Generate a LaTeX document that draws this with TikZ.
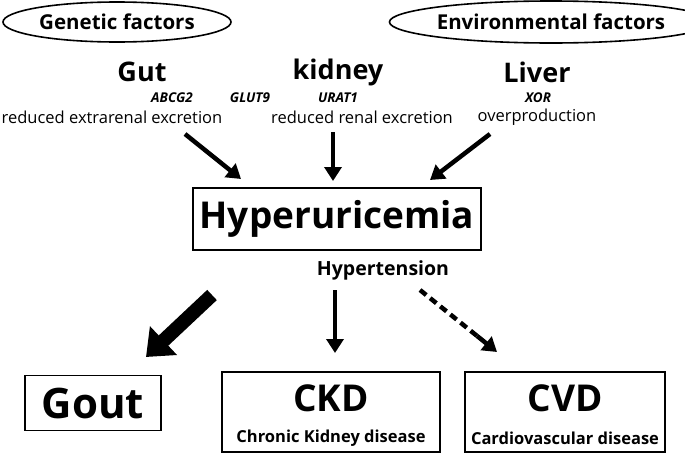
\documentclass[tikz,border=0pt]{standalone}
\usepackage{fontspec}
\setmainfont{Open Sans}
\usetikzlibrary{shapes.geometric,arrows.meta,calc}
\begin{document}
\begin{tikzpicture}[x=1pt,y=-1pt,
  oval/.style={ellipse,draw,line width=1.6pt,inner sep=0pt,font=\bfseries\fontsize{20.5}{22}\selectfont},
  organ/.style={font=\bfseries\fontsize{27}{28}\selectfont},
  gene/.style={font=\bfseries\itshape\fontsize{13.5}{14}\selectfont},
  desc/.style={font=\fontsize{16.5}{17}\selectfont},
  box/.style={draw,line width=1.2pt,inner sep=0pt},
  arr/.style={line width=4.5pt,-{Triangle[length=14pt,width=17pt]}},
  sub/.style={font=\bfseries\fontsize{16.5}{17}\selectfont}]
\useasboundingbox (0,0) rectangle (685,458);
\node[oval,minimum width=228,minimum height=40] (gen) at (117,22) {Genetic factors};
\node[oval,minimum width=262,minimum height=42] (env) at (551,22) {Environmental factors};
\node[organ] (gut) at (142,72) {Gut};
\node[organ] (kid) at (338,72) {kidney};
\node[organ] (liv) at (537,72) {Liver};
\node[gene] (abcg) at (172,98) {ABCG2};
\node[gene] (glut) at (250,98) {GLUT9};
\node[gene] (urat) at (338,98) {URAT1};
\node[gene] (xor) at (538,98) {XOR};
\node[desc] (d1) at (112,117) {reduced extrarenal excretion};
\node[desc] (d2) at (362,117) {reduced renal excretion};
\node[desc] (d3) at (537,117) {overproduction};
\node[box,minimum width=288,minimum height=62,font=\bfseries\fontsize{37}{40}\selectfont] (hyp) at (337,219) {Hyperuricemia};
\node[font=\bfseries\fontsize{19.5}{20}\selectfont] (ht) at (383,270) {Hypertension};
\node[box,minimum width=136,minimum height=55,font=\bfseries\fontsize{42}{44}\selectfont] (gout) at (93,403) {Gout};
\node[box,minimum width=218,minimum height=80] (ckd) at (331,412) {};
\node[font=\bfseries\fontsize{37}{40}\selectfont] (ckdt) at (331,398) {CKD};
\node[sub] (ckds) at (331,438) {Chronic Kidney disease};
\node[box,minimum width=200,minimum height=80] (cvd) at (565,412) {};
\node[font=\bfseries\fontsize{37}{40}\selectfont] (cvdt) at (565,398) {CVD};
\node[sub] (cvds) at (565,438) {Cardiovascular disease};
\coordinate (a1) at (185,134); \coordinate (b1) at (241,179);
\coordinate (a2) at (333,132); \coordinate (b2) at (333,181);
\coordinate (a3) at (490,134); \coordinate (b3) at (430,180);
\draw[arr] (a1) -- (b1);
\draw[arr] (a2) -- (b2);
\draw[arr] (a3) -- (b3);
\coordinate (c1) at (212,295); \coordinate (e1) at (146,357);
\draw[line width=14pt,-{Triangle[length=24pt,width=38pt]}] (c1) -- (e1);
\coordinate (c2) at (335,290); \coordinate (e2) at (335,353);
\draw[arr] (c2) -- (e2);
\coordinate (c3) at (420,290); \coordinate (e3) at (497,352);
\coordinate (m3) at ($(c3)!0.75!(e3)$);
\coordinate (n3) at ($(c3)!0.74!(e3)$);
\draw[line width=4.5pt,dash pattern=on 8pt off 5pt] (c3) -- (m3);
\draw[arr] (n3) -- (e3);
\end{tikzpicture}
\end{document}
